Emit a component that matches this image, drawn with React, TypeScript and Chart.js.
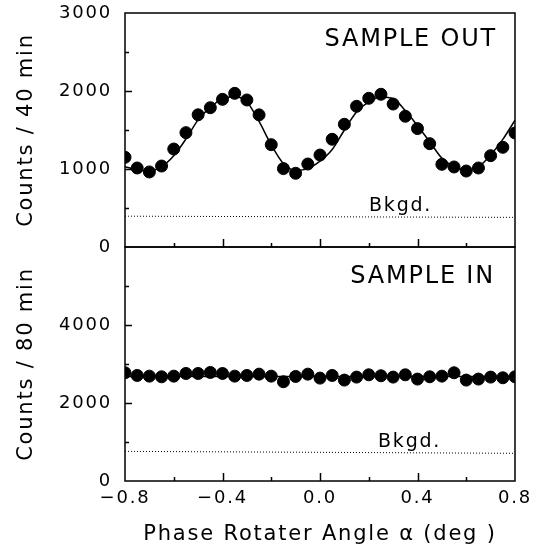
import React, { useEffect, useRef } from 'react';
import { Chart, registerables } from 'chart.js';

Chart.register(...registerables);

// Phase rotater angle (deg)
const angles = [
  -0.8, -0.75, -0.7, -0.65, -0.6, -0.55, -0.5, -0.45, -0.4, -0.35, -0.3,
  -0.25, -0.2, -0.15, -0.1, -0.05, 0.0, 0.05, 0.1, 0.15, 0.2, 0.25, 0.3,
  0.35, 0.4, 0.45, 0.5, 0.55, 0.6, 0.65, 0.7, 0.75, 0.8,
];

// SAMPLE OUT counts / 40 min
const sampleOut = [
  1150, 1013, 962, 1038, 1256, 1466, 1695, 1786, 1893, 1970, 1885,
  1694, 1312, 1005, 945, 1064, 1179, 1381, 1573, 1804, 1906, 1958,
  1833, 1676, 1518, 1325, 1060, 1026, 974, 1013, 1171, 1278, 1462,
];

// fitted curve
const fitOut = [
  1030, 992, 972, 1030, 1170, 1385, 1630, 1790, 1900, 1925, 1860,
  1610, 1310, 1070, 983, 1005, 1100, 1250, 1500, 1730, 1860, 1923,
  1900, 1750, 1555, 1350, 1140, 1030, 985, 1028, 1180, 1380, 1625,
];

// SAMPLE IN counts / 80 min
const sampleIn = [
  2775, 2706, 2689, 2672, 2689, 2757, 2757, 2783, 2757, 2689, 2706,
  2740, 2689, 2545, 2681, 2740, 2638, 2706, 2587, 2664, 2723, 2698,
  2664, 2723, 2613, 2672, 2689, 2775, 2587, 2613, 2664, 2647, 2672,
];
const flatIn = [2680, 2680];
const flatAngles = [-0.8, 0.8];

// background levels
const bkgdOut = [395, 380];
const bkgdIn = [760, 710];

const xTicks = [-0.8, -0.4, 0.0, 0.4, 0.8];
const yOutTicks = [0, 1000, 2000, 3000];
const yInTicks = [0, 2000, 4000];

const FONT = "'DejaVu Sans', sans-serif";

const pts = (xs: number[], ys: number[]) => xs.map((x, i) => ({ x, y: ys[i] }));

const noPad = (s: any) => {
  s.paddingTop = 0;
  s.paddingBottom = 0;
  s.paddingLeft = 0;
  s.paddingRight = 0;
};

const spacingPlugin = {
  id: 'spacing',
  beforeDraw(chart: any) {
    (chart.ctx as any).letterSpacing = '1.8px';
  },
};

const framePlugin = {
  id: 'frameTicks',
  afterDatasetsDraw(chart: any) {
    const { ctx, chartArea, scales } = chart;
    const xs = scales.x;
    ctx.save();
    ctx.strokeStyle = '#000';
    ctx.lineWidth = 1.5;
    const xStep = 0.4;
    for (const id of ['yOut', 'yIn']) {
      const s = scales[id];
      ctx.strokeRect(chartArea.left, s.top, chartArea.right - chartArea.left, s.bottom - s.top);
      const vals = s.ticks.map((t: any) => t.value);
      const step = vals[1] - vals[0];
      ctx.beginPath();
      for (let k = 1; k < Math.round(((s.max - s.min) / step) * 2); k++) {
        const v = s.min + (k * step) / 2;
        const len = k % 2 === 0 ? 7 : 4;
        const py = Math.round(s.getPixelForValue(v)) + 0.5;
        ctx.moveTo(chartArea.left, py);
        ctx.lineTo(chartArea.left + len, py);
      }
      for (let k = 1; k < Math.round(((xs.max - xs.min) / xStep) * 2); k++) {
        const v = xs.min + (k * xStep) / 2;
        const len = k % 2 === 0 ? 8 : 4;
        const px = Math.round(xs.getPixelForValue(v)) + 0.5;
        ctx.moveTo(px, s.bottom);
        ctx.lineTo(px, s.bottom - len);
      }
      ctx.stroke();
    }
    ctx.fillStyle = '#000';
    ctx.font = `24px ${FONT}`;
    ctx.textAlign = 'right';
    ctx.textBaseline = 'middle';
    ctx.fillText('SAMPLE OUT', chartArea.right - 18, scales.yOut.top + 27);
    ctx.fillText('SAMPLE IN', chartArea.right - 20, scales.yIn.top + 30);
    ctx.font = `19px ${FONT}`;
    ctx.textAlign = 'left';
    ctx.textBaseline = 'alphabetic';
    ctx.fillText('Bkgd.', 369, 211);
    ctx.fillText('Bkgd.', 378, 447);
    ctx.restore();
  },
};

export default function App() {
  const ref = useRef<HTMLCanvasElement | null>(null);
  useEffect(() => {
    if (!ref.current) return;
    Chart.defaults.font.family = FONT;
    Chart.defaults.color = '#000';
    const chart = new Chart(ref.current, {
      type: 'scatter',
      data: {
        datasets: [
          {
            data: pts(angles, sampleOut),
            yAxisID: 'yOut',
            backgroundColor: '#000',
            borderColor: '#000',
            pointRadius: 6,
            pointHoverRadius: 6,
            showLine: false,
          },
          {
            data: pts(angles, fitOut),
            yAxisID: 'yOut',
            showLine: true,
            borderColor: '#000',
            borderWidth: 1.5,
            pointRadius: 0,
            cubicInterpolationMode: 'monotone',
          },
          {
            data: pts(flatAngles, bkgdOut),
            yAxisID: 'yOut',
            showLine: true,
            borderColor: '#000',
            borderWidth: 1,
            borderDash: [1, 2],
            pointRadius: 0,
          },
          {
            data: pts(angles, sampleIn),
            yAxisID: 'yIn',
            backgroundColor: '#000',
            borderColor: '#000',
            pointRadius: 6,
            pointHoverRadius: 6,
            showLine: false,
          },
          {
            data: pts(flatAngles, flatIn),
            yAxisID: 'yIn',
            showLine: true,
            borderColor: '#000',
            borderWidth: 1.5,
            pointRadius: 0,
          },
          {
            data: pts(flatAngles, bkgdIn),
            yAxisID: 'yIn',
            showLine: true,
            borderColor: '#000',
            borderWidth: 1,
            borderDash: [1, 2],
            pointRadius: 0,
          },
        ],
      },
      options: {
        animation: false,
        responsive: true,
        maintainAspectRatio: false,
        events: [],
        layout: { padding: { top: 13, right: 20, left: 0, bottom: 0 } },
        plugins: { legend: { display: false }, tooltip: { enabled: false } },
        scales: {
          x: {
            type: 'linear',
            position: 'bottom',
            min: -0.8,
            max: 0.8,
            grid: { display: false, drawTicks: false },
            border: { display: false },
            afterBuildTicks: (s: any) => {
              s.ticks = xTicks.map((v) => ({ value: v }));
            },
            afterFit: (s: any) => {
              s.height = 75;
              noPad(s);
            },
            ticks: {
              padding: 7,
              font: { size: 18 },
              callback: (v: any) => {
                const n = Number(v);
                const t = Math.abs(n).toFixed(1);
                return n < -1e-9 ? '\u2212' + t : t;
              },
            },
            title: {
              display: true,
              text: 'Phase Rotater Angle \u03b1 (deg )',
              font: { size: 21 },
              padding: { top: 0, bottom: 9 },
            },
          },
          yIn: {
            type: 'linear',
            position: 'left',
            stack: 'panels',
            stackWeight: 1,
            min: 0,
            max: 6000,
            grid: { display: false, drawTicks: false },
            border: { display: false },
            afterBuildTicks: (s: any) => {
              s.ticks = [0, 2000, 4000, 6000].map((v) => ({ value: v }));
            },
            afterFit: (s: any) => {
              s.width = 125;
              noPad(s);
            },
            ticks: {
              padding: 13,
              font: { size: 18 },
              callback: (v: any) => (yInTicks.includes(Number(v)) ? String(v) : ''),
            },
            title: {
              display: true,
              text: 'Counts / 80 min',
              font: { size: 21 },
              padding: { top: 14, bottom: 0 },
            },
          },
          yOut: {
            type: 'linear',
            position: 'left',
            stack: 'panels',
            stackWeight: 1,
            min: 0,
            max: 3000,
            grid: { display: false, drawTicks: false },
            border: { display: false },
            afterBuildTicks: (s: any) => {
              s.ticks = yOutTicks.map((v) => ({ value: v }));
            },
            afterFit: (s: any) => {
              s.width = 125;
              noPad(s);
            },
            ticks: {
              padding: 13,
              font: { size: 18 },
              callback: (v: any) => String(v),
            },
            title: {
              display: true,
              text: 'Counts / 40 min',
              font: { size: 21 },
              padding: { top: 14, bottom: 0 },
            },
          },
        },
      } as any,
      plugins: [spacingPlugin, framePlugin],
    });
    return () => chart.destroy();
  }, []);

  return (
    <div style={{ position: 'absolute', left: 0, top: 0, width: 535, height: 556, background: '#fff' }}>
      <canvas ref={ref} />
    </div>
  );
}
